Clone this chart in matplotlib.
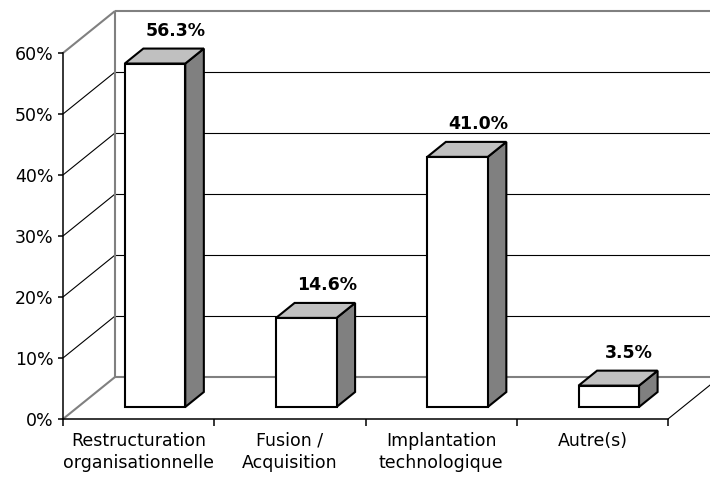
import matplotlib
matplotlib.use("Agg")
import matplotlib.pyplot as plt
from matplotlib.patches import Polygon

categories = ["Restructuration\norganisationnelle", "Fusion /\nAcquisition",
              "Implantation\ntechnologique", "Autre(s)"]
values = [56.3, 14.6, 41.0, 3.5]
y_ticks = [0, 10, 20, 30, 40, 50, 60]

plt.rcParams["font.family"] = ["DejaVu Sans"]
plt.rcParams["font.size"] = 12.5

fig = plt.figure(figsize=(7.1, 4.78), dpi=100)
ax = fig.add_axes([63 / 710, 59 / 478, 605 / 710, 366 / 478])
n = len(categories)
ax.set_xlim(0, n)
ax.set_ylim(0, y_ticks[-1])
ax.patch.set_visible(False)

# oblique projection of the depth axis (full depth, in data units)
DX, DY = 0.344, 6.885
GRAY = "#808080"


def proj(x, y, d):
    return (x + d * DX, y + d * DY)


def seg(p, q, **kw):
    ax.plot([p[0], q[0]], [p[1], q[1]], clip_on=False, solid_capstyle="butt", **kw)


# back wall and side wall gridlines
for t in y_ticks[1:-1]:
    seg(proj(0, t, 0), proj(0, t, 1), color="black", lw=0.8, zorder=1)
    seg(proj(0, t, 1), proj(n, t, 1), color="black", lw=0.8, zorder=1)

top = y_ticks[-1]
seg(proj(0, top, 0), proj(0, top, 1), color=GRAY, lw=1.5, zorder=1)
seg(proj(0, top, 1), proj(n, top, 1), color=GRAY, lw=1.5, zorder=1)
seg(proj(0, 0, 1), proj(0, top, 1), color=GRAY, lw=1.5, zorder=1)
seg(proj(0, 0, 0), proj(0, 0, 1), color=GRAY, lw=1.5, zorder=1)
seg(proj(0, 0, 1), proj(n, 0, 1), color=GRAY, lw=1.5, zorder=1)
seg(proj(n, 0, 0), proj(n, 0, 1), color="black", lw=0.8, zorder=1)

# 3D-looking bars
d0, d1 = 0.286, 0.643
off, width = 0.31, 0.40
for i, v in enumerate(values):
    x0 = i + off
    x1 = x0 + width
    side = [proj(x1, 0, d0), proj(x1, 0, d1), proj(x1, v, d1), proj(x1, v, d0)]
    lid = [proj(x0, v, d0), proj(x1, v, d0), proj(x1, v, d1), proj(x0, v, d1)]
    front = [proj(x0, 0, d0), proj(x1, 0, d0), proj(x1, v, d0), proj(x0, v, d0)]
    for pts, fc in ((side, "#808080"), (lid, "#c0c0c0"), (front, "white")):
        ax.add_patch(Polygon(pts, closed=True, facecolor=fc, edgecolor="black",
                             lw=1.5, joinstyle="miter", zorder=3, clip_on=False))
    lx, ly = proj(x0 + width / 2 + 0.135, v + 5.4, d0)
    ax.text(lx, ly, f"{v:.1f}%", ha="center", va="center",
            fontsize=12.5, fontweight="bold", zorder=4, clip_on=False)

# axes
for s in ("top", "right"):
    ax.spines[s].set_visible(False)
for s in ("left", "bottom"):
    ax.spines[s].set_linewidth(1.1)
ax.set_yticks(y_ticks)
ax.set_yticklabels([f"{t}%" for t in y_ticks])
ax.tick_params(axis="y", length=3.8, width=1.1, pad=3, labelsize=12.5)
ax.set_xticks([i + 0.5 for i in range(n)])
ax.set_xticklabels(categories, linespacing=1.3)
ax.set_xticks(range(n + 1), minor=True)
ax.tick_params(axis="x", which="major", length=0, pad=9, labelsize=12.5)
ax.tick_params(axis="x", which="minor", length=5, width=1.1)

fig.savefig("out.png", dpi=100)
